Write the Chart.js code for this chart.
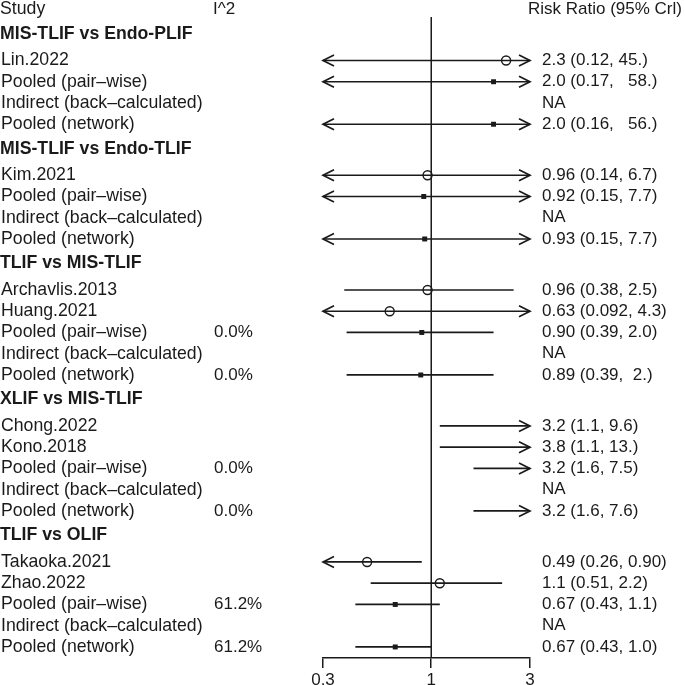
<!DOCTYPE html>
<html lang="en">
<head>
    <meta charset="UTF-8">
    <title>Risk Ratio forest plot</title>
    <script src="https://cdn.jsdelivr.net/npm/chart.js"></script>
    <style>
        body { margin: 0; background: #ffffff; }
        #wrap { width: 685px; height: 685px; }
    </style>
</head>
<body>
    <div id="wrap"><canvas id="forest"></canvas></div>

    <script>
        // Comparisons (section headings)
        const groups = ['MIS-TLIF vs Endo-PLIF', 'MIS-TLIF vs Endo-TLIF', 'TLIF vs MIS-TLIF', 'XLIF vs MIS-TLIF', 'TLIF vs OLIF'];

        // One entry per row
        const rowGroup = [0, 0, 0, 0, 1, 1, 1, 1, 2, 2, 2, 2, 2, 3, 3, 3, 3, 3, 4, 4, 4, 4, 4];
        const rowLabels = [
            'Lin.2022', 'Pooled (pair\u2013wise)', 'Indirect (back\u2013calculated)', 'Pooled (network)',
            'Kim.2021', 'Pooled (pair\u2013wise)', 'Indirect (back\u2013calculated)', 'Pooled (network)',
            'Archavlis.2013', 'Huang.2021', 'Pooled (pair\u2013wise)', 'Indirect (back\u2013calculated)', 'Pooled (network)',
            'Chong.2022', 'Kono.2018', 'Pooled (pair\u2013wise)', 'Indirect (back\u2013calculated)', 'Pooled (network)',
            'Takaoka.2021', 'Zhao.2022', 'Pooled (pair\u2013wise)', 'Indirect (back\u2013calculated)', 'Pooled (network)'
        ];
        const rowKind = [
            'study', 'pooled', 'na', 'pooled',
            'study', 'pooled', 'na', 'pooled',
            'study', 'study', 'pooled', 'na', 'pooled',
            'study', 'study', 'pooled', 'na', 'pooled',
            'study', 'study', 'pooled', 'na', 'pooled'
        ];
        const rowI2 = [
            '', '', '', '',
            '', '', '', '',
            '', '', '0.0%', '', '0.0%',
            '', '', '0.0%', '', '0.0%',
            '', '', '61.2%', '', '61.2%'
        ];
        const rowEst = [2.3, 2.0, null, 2.0, 0.96, 0.92, null, 0.93, 0.96, 0.63, 0.90, null, 0.89, 3.2, 3.8, 3.2, null, 3.2, 0.49, 1.1, 0.67, null, 0.67];
        const rowLo = [0.12, 0.17, null, 0.16, 0.14, 0.15, null, 0.15, 0.38, 0.092, 0.39, null, 0.39, 1.1, 1.1, 1.6, null, 1.6, 0.26, 0.51, 0.43, null, 0.43];
        const rowHi = [45, 58, null, 56, 6.7, 7.7, null, 7.7, 2.5, 4.3, 2.0, null, 2.0, 9.6, 13, 7.5, null, 7.6, 0.90, 2.2, 1.1, null, 1.0];
        const rowText = [
            '2.3 (0.12, 45.)', '2.0 (0.17,   58.)', 'NA', '2.0 (0.16,   56.)',
            '0.96 (0.14, 6.7)', '0.92 (0.15, 7.7)', 'NA', '0.93 (0.15, 7.7)',
            '0.96 (0.38, 2.5)', '0.63 (0.092, 4.3)', '0.90 (0.39, 2.0)', 'NA', '0.89 (0.39,  2.)',
            '3.2 (1.1, 9.6)', '3.8 (1.1, 13.)', '3.2 (1.6, 7.5)', 'NA', '3.2 (1.6, 7.6)',
            '0.49 (0.26, 0.90)', '1.1 (0.51, 2.2)', '0.67 (0.43, 1.1)', 'NA', '0.67 (0.43, 1.0)'
        ];

        // Axis
        const xMin = 0.3, xMax = 3;
        const xTicks = [0.3, 1, 3];

        const FONT = '"Liberation Sans", Arial, sans-serif';
        const INK = '#1a1a1a';

        // Vertical row positions (in row units, header row = 0)
        const headingY = [];
        const rowY = [];
        let pos = 0;
        rowGroup.forEach((g, i) => {
            if (i === 0 || rowGroup[i - 1] !== g) {
                pos += 1.15;
                headingY[g] = pos;
                pos += 1.25;
            } else {
                pos += 1;
            }
            rowY.push(pos);
        });
        const yMin = -0.447;
        const yMax = pos + 0.52;

        const inRange = v => v !== null && v >= xMin && v <= xMax;
        const studyPts = [], pooledPts = [];
        rowEst.forEach((v, i) => {
            if (!inRange(v)) return;
            if (rowKind[i] === 'study') studyPts.push({ x: v, y: rowY[i] });
            if (rowKind[i] === 'pooled') pooledPts.push({ x: v, y: rowY[i] });
        });

        // CI lines with arrows where they run past the axis
        const ciPlugin = {
            id: 'ciLines',
            beforeDatasetsDraw(chart) {
                const ctx = chart.ctx, xs = chart.scales.x, ys = chart.scales.y;
                ctx.save();
                ctx.strokeStyle = INK;
                ctx.lineWidth = 1.7;
                rowLo.forEach((lo, i) => {
                    if (lo === null) return;
                    const hi = rowHi[i];
                    const y = ys.getPixelForValue(rowY[i]);
                    const x0 = xs.getPixelForValue(Math.max(lo, xMin));
                    const x1 = xs.getPixelForValue(Math.min(hi, xMax));
                    ctx.beginPath();
                    ctx.moveTo(x0, y);
                    ctx.lineTo(x1, y);
                    ctx.stroke();
                    if (lo < xMin) {
                        ctx.beginPath();
                        ctx.moveTo(x0 + 11, y - 5.5);
                        ctx.lineTo(x0, y);
                        ctx.lineTo(x0 + 11, y + 5.5);
                        ctx.stroke();
                    }
                    if (hi > xMax) {
                        ctx.beginPath();
                        ctx.moveTo(x1 - 11, y - 5.5);
                        ctx.lineTo(x1, y);
                        ctx.lineTo(x1 - 11, y + 5.5);
                        ctx.stroke();
                    }
                });
                ctx.restore();
            }
        };

        // Text columns
        const textPlugin = {
            id: 'tableText',
            afterDraw(chart) {
                const ctx = chart.ctx, ys = chart.scales.y;
                ctx.save();
                ctx.fillStyle = INK;
                ctx.textBaseline = 'middle';
                ctx.textAlign = 'left';
                const hy = ys.getPixelForValue(0);
                ctx.font = '17.7px ' + FONT;
                ctx.fillText('Study', 0, hy);
                ctx.font = '17px ' + FONT;
                ctx.fillText('I^2', 213, hy);
                ctx.fillText('Risk Ratio (95% Crl)', 528, hy);

                ctx.font = 'bold 17.7px ' + FONT;
                groups.forEach((g, k) => ctx.fillText(g, 0, ys.getPixelForValue(headingY[k])));

                rowLabels.forEach((lab, i) => {
                    const y = ys.getPixelForValue(rowY[i]);
                    ctx.font = '17.7px ' + FONT;
                    ctx.fillText(lab, 1, y);
                    ctx.font = '17px ' + FONT;
                    if (rowI2[i]) ctx.fillText(rowI2[i], 214, y);
                    ctx.fillText(rowText[i], 542, y);
                });
                ctx.restore();
            }
        };

        new Chart(document.getElementById('forest'), {
            type: 'scatter',
            data: {
                datasets: [
                    {
                        type: 'line',
                        data: [{ x: 1, y: 0.35 }, { x: 1, y: yMax }],
                        borderColor: INK,
                        borderWidth: 1.5,
                        pointRadius: 0,
                        clip: false
                    },
                    {
                        data: studyPts,
                        pointStyle: 'circle',
                        pointRadius: 4.5,
                        borderColor: INK,
                        borderWidth: 1.4,
                        backgroundColor: 'rgba(0,0,0,0)'
                    },
                    {
                        data: pooledPts,
                        pointStyle: 'rect',
                        pointRadius: 3.5,
                        borderColor: INK,
                        borderWidth: 0,
                        backgroundColor: INK
                    }
                ]
            },
            options: {
                responsive: true,
                maintainAspectRatio: false,
                animation: false,
                layout: { autoPadding: false, padding: { left: 323, right: 155, top: 0, bottom: 0 } },
                plugins: { legend: { display: false }, tooltip: { enabled: false } },
                scales: {
                    x: {
                        type: 'logarithmic',
                        min: xMin,
                        max: xMax,
                        afterBuildTicks: axis => { axis.ticks = xTicks.map(v => ({ value: v })); },
                        afterFit: axis => { axis.height = 27; },
                        border: { display: true, color: INK, width: 1.5 },
                        grid: { drawOnChartArea: false, drawTicks: true, tickLength: 10, color: INK, lineWidth: 1.5 },
                        ticks: {
                            color: INK,
                            padding: 2,
                            maxRotation: 0,
                            autoSkip: false,
                            font: { family: FONT, size: 17 },
                            callback: v => String(v)
                        }
                    },
                    y: {
                        type: 'linear',
                        display: false,
                        reverse: true,
                        min: yMin,
                        max: yMax
                    }
                }
            },
            plugins: [ciPlugin, textPlugin]
        });
    </script>
</body>
</html>
